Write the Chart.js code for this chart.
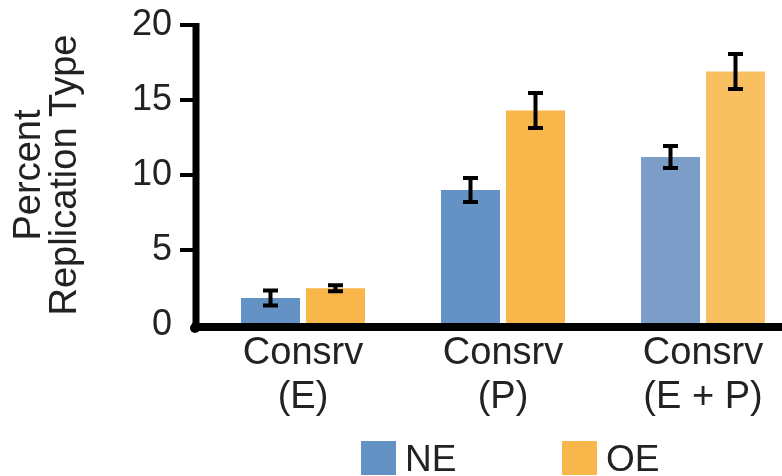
<!DOCTYPE html>
<html>
<head>
<meta charset="utf-8">
<script src="https://cdn.jsdelivr.net/npm/chart.js@4/dist/chart.umd.min.js"></script>
<style>
    html, body { margin: 0; padding: 0; background: #fff; }
    #wrap { position: relative; width: 782px; height: 476px; }
    #legend { position: absolute; left: 0; top: 441px; width: 782px; height: 35px;
              font-family: 'Liberation Sans', Arial, sans-serif; font-size: 37px; color: #222; }
    .item { position: absolute; top: 0; height: 35px; line-height: 35px; white-space: nowrap; }
    .box { display: inline-block; width: 35px; height: 34px; vertical-align: top; }
    .txt { position: absolute; top: 0; }
</style>
</head>
<body>
<div id="wrap">
    <canvas id="chart" width="782" height="476"></canvas>
    <div id="legend"></div>
</div>
<script>
const categories = [['Consrv', '(E)'], ['Consrv', '(P)'], ['Consrv', '(E + P)']];
const series     = ['NE', 'OE'];
const ne_values  = [1.8, 9.0, 11.2];
const oe_values  = [2.45, 14.3, 16.9];
const ne_errors  = [0.5, 0.8, 0.73];
const oe_errors  = [0.2, 1.17, 1.17];
const y_ticks    = [0, 5, 10, 15, 20];

const FONT = "'Liberation Sans', Arial, sans-serif";
const TEXT = '#222';

const ne_colors = ['#6592c5', '#6592c5', '#7d9dc9'];
const oe_colors = ['#f9b64a', '#f9b64a', '#f9c062'];

// error bars from the dataset's own errors
const errorBars = {
    id: 'errorBars',
    afterDatasetsDraw(chart) {
        const ctx = chart.ctx;
        const y = chart.scales.y;
        ctx.save();
        ctx.strokeStyle = '#000';
        chart.data.datasets.forEach((ds, i) => {
            chart.getDatasetMeta(i).data.forEach((bar, j) => {
                const v = ds.data[j].y, e = ds.errors[j];
                const top = y.getPixelForValue(v + e);
                const bot = y.getPixelForValue(v - e);
                ctx.lineWidth = 4;
                ctx.beginPath();
                ctx.moveTo(bar.x, top); ctx.lineTo(bar.x, bot);
                ctx.moveTo(bar.x - 7.5, top); ctx.lineTo(bar.x + 7.5, top);
                ctx.moveTo(bar.x - 7.5, bot); ctx.lineTo(bar.x + 7.5, bot);
                ctx.stroke();
            });
        });
        ctx.restore();
    }
};

// thick black axes, x axis runs to the edge
const axes = {
    id: 'axes',
    afterDatasetsDraw(chart) {
        const ctx = chart.ctx;
        const y = chart.scales.y;
        const ax = chart.chartArea.left - 7;
        const y0 = y.getPixelForValue(0);
        ctx.save();
        ctx.strokeStyle = '#000';
        ctx.lineWidth = 4;
        ctx.beginPath();
        y_ticks.forEach(t => {
            if (t === 0) return;
            ctx.moveTo(ax - 16, y.getPixelForValue(t));
            ctx.lineTo(ax, y.getPixelForValue(t));
        });
        ctx.stroke();
        ctx.lineWidth = 7;
        ctx.beginPath();
        ctx.moveTo(ax, y.getPixelForValue(20) - 2);
        ctx.lineTo(ax, y0 + 5);
        ctx.stroke();
        ctx.lineWidth = 8;
        ctx.beginPath();
        ctx.moveTo(ax - 4, y0 + 2);
        ctx.lineTo(chart.width, y0 + 2);
        ctx.stroke();
        ctx.fillStyle = '#000';
        ctx.beginPath();
        ctx.arc(ax - 1, y0 + 3, 5, 0, Math.PI * 2);
        ctx.fill();
        ctx.restore();
    }
};

const chart = new Chart(document.getElementById('chart').getContext('2d'), {
    type: 'bar',
    data: {
        datasets: [{
            label: series[0],
            data: ne_values.map((v, i) => ({x: i, y: v})),
            errors: ne_errors,
            backgroundColor: ne_colors
        }, {
            label: series[1],
            data: oe_values.map((v, i) => ({x: i, y: v})),
            errors: oe_errors,
            backgroundColor: oe_colors
        }]
    },
    options: {
        responsive: false,
        animation: false,
        devicePixelRatio: 1,
        categoryPercentage: 0.65,
        barPercentage: 0.908,
        layout: { padding: { top: 25, right: 0, left: 0, bottom: 0 } },
        plugins: {
            legend: { display: false },
            tooltip: { enabled: false }
        },
        scales: {
            x: {
                type: 'linear',
                offset: false,
                min: -0.5,
                max: 2.395,
                afterFit: s => { s.height = 151; s.paddingLeft = 0; s.paddingRight = 0; },
                afterBuildTicks: s => { s.ticks = categories.map((c, i) => ({value: i})); },
                grid: { display: false, drawTicks: false },
                border: { display: false },
                ticks: {
                    autoSkip: false,
                    maxRotation: 0,
                    padding: 6,
                    color: TEXT,
                    font: { family: FONT, size: 38, lineHeight: 1.16 },
                    callback: v => categories[v]
                }
            },
            y: {
                min: 0,
                max: 20,
                afterFit: s => { s.width = 203; s.paddingTop = 0; s.paddingBottom = 0; },
                afterBuildTicks: s => { s.ticks = y_ticks.map(v => ({value: v})); },
                grid: { display: false, drawTicks: false },
                border: { display: false },
                ticks: {
                    padding: 31,
                    color: TEXT,
                    font: { family: FONT, size: 36 }
                },
                title: {
                    display: true,
                    text: ['Percent', 'Replication Type'],
                    color: TEXT,
                    padding: { top: 11, bottom: 0 },
                    font: { family: FONT, size: 38, lineHeight: 0.95 }
                }
            }
        }
    },
    plugins: [errorBars, axes]
});

// legend below the plot
const legend = document.getElementById('legend');
const legend_x = [361, 562];
chart.data.datasets.forEach((ds, i) => {
    const item = document.createElement('div');
    item.className = 'item';
    item.style.left = legend_x[i] + 'px';
    item.innerHTML = '<span class="box" style="background:' + ds.backgroundColor[0] + '"></span>' +
                     '<span class="txt" style="left:44px">' + ds.label + '</span>';
    legend.appendChild(item);
});
</script>
</body>
</html>
